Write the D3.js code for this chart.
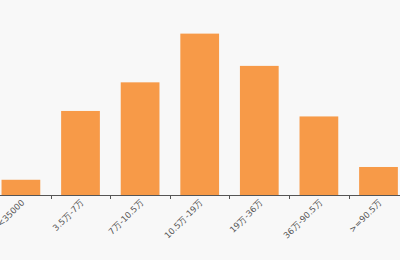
<!DOCTYPE html>
<html>
<head>
<meta charset="utf-8">
<script src="https://cdn.jsdelivr.net/npm/d3@7"></script>
<style>
  body { margin: 0; background: #f8f8f8; }
  #chart svg { display: block; }
</style>
</head>
<body>
<div id="chart"></div>
<script>
const categories = ["<35000", "3.5万-7万", "7万-10.5万", "10.5万-19万", "19万-36万", "36万-90.5万", ">=90.5万"];
const values = [2.5, 13.8, 18.5, 26.5, 21.2, 12.9, 4.6];
const yMax = 30;

const width = 400;
const height = 260;
const baseline = 195;

const svg = d3.select("#chart")
    .append("svg")
    .attr("width", width)
    .attr("height", height)
    .style("background", "#f8f8f8");

// band range runs a bit past both edges, as in the original
const xScale = d3.scaleBand()
    .domain(categories)
    .range([-8.9, 408.3])
    .paddingInner(0.35)
    .paddingOuter(0.175);

const step = xScale.step();
const xStart = xScale(categories[0]) - xScale.paddingOuter() * step;

const yScale = d3.scaleLinear()
    .domain([0, yMax])
    .range([baseline, baseline - yMax * 6.09]);

svg.selectAll("rect")
    .data(values)
    .enter()
    .append("rect")
    .attr("x", (d, i) => xScale(categories[i]))
    .attr("y", d => yScale(d))
    .attr("width", xScale.bandwidth())
    .attr("height", d => baseline - yScale(d))
    .attr("fill", "#f79a48");

// axis line
svg.append("line")
    .attr("x1", 0)
    .attr("x2", width)
    .attr("y1", baseline + 0.5)
    .attr("y2", baseline + 0.5)
    .attr("stroke", "#555")
    .attr("stroke-width", 1);

// ticks at band boundaries
const boundaries = d3.range(1, categories.length).map(i => xStart + i * step);
svg.selectAll("line.tick")
    .data(boundaries)
    .enter()
    .append("line")
    .attr("class", "tick")
    .attr("x1", d => Math.round(d) + 0.5)
    .attr("x2", d => Math.round(d) + 0.5)
    .attr("y1", baseline)
    .attr("y2", baseline + 4)
    .attr("stroke", "#555");

// rotated labels
svg.selectAll("text.label")
    .data(categories)
    .enter()
    .append("text")
    .attr("class", "label")
    .attr("transform", d => `translate(${xScale(d) + xScale.bandwidth() / 2 + 2},${baseline + 6}) rotate(-45)`)
    .attr("text-anchor", "end")
    .attr("dy", "0.35em")
    .style("font-family", "'DejaVu Sans', sans-serif")
    .style("font-size", "8.5px")
    .style("fill", "#555")
    .text(d => d);
</script>
</body>
</html>
